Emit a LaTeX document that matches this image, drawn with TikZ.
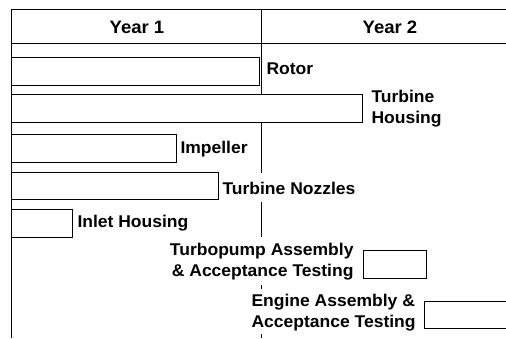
\documentclass[tikz,border=0pt]{standalone}
\usepackage{fontspec}
\setmainfont{Liberation Sans}[FakeStretch=1.03]
\usetikzlibrary{positioning}
\tikzset{
  hdr/.style={font=\fontsize{18}{21}\selectfont\bfseries, inner sep=0pt},
  lbl/.style={font=\fontsize{17}{21}\selectfont\bfseries, inner sep=0pt},
  bar/.style={draw, fill=white},
}

\begin{document}
\begin{tikzpicture}[x=1pt, y=-1pt, line width=1pt]
    \useasboundingbox (0,0) rectangle (506,338);
    % frame and header
    \draw (11,338) -- (11,9) -- (506,9);
    \draw (11,43) -- (506,43);
    \node[hdr, anchor=base] (year1) at (137,33) {Year 1};
    \node[hdr, anchor=base] (year2) at (390,33) {Year 2};
    % year divider, broken behind the labels
    \foreach \a/\b in {9/94, 122/173, 202/237, 285/289, 334/338}
        \draw (261,\a) -- (261,\b);
    % task bars
    \foreach \r/\t/\b in {259/57/85, 362/94/122, 176/134/162, 218/172/199, 72/209/237}
        \draw[bar] (11,\t) rectangle (\r,\b);
    \draw[bar] (363,250) rectangle (426,278);
    \draw (506,301) -- (424,301) -- (424,328) -- (506,328);
    % task labels
    \node[lbl, anchor=base west] (rotor) at (266,74) {Rotor};
    \node[lbl, anchor=west, align=left] (housing) at (371,109) {Turbine\\Housing};
    \node[lbl, anchor=base west] (impeller) at (180,153) {Impeller};
    \node[lbl, anchor=base west] (nozzles) at (222,194) {Turbine Nozzles};
    \node[lbl, anchor=base west] (inlet) at (77,227) {Inlet Housing};
    \node[lbl, anchor=east, align=right] (pump) at (354,262) {Turbopump Assembly\\\& Acceptance Testing};
    \node[lbl, anchor=west, align=left] (engine) at (251,312.5) {Engine Assembly \&\\Acceptance Testing};
\end{tikzpicture}
\end{document}
